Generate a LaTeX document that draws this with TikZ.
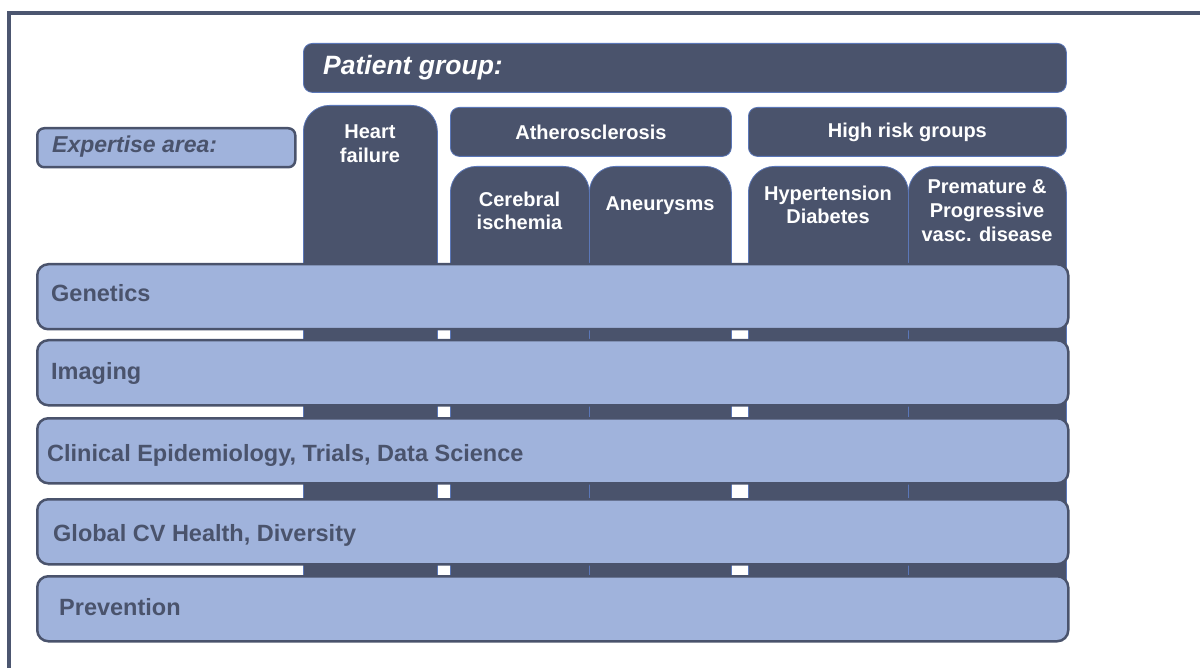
\documentclass[tikz,border=0pt]{standalone}
\usepackage{fontspec}
\setmainfont{Liberation Sans}
\definecolor{cvDark}{HTML}{4A536C}
\definecolor{cvLight}{HTML}{A0B3DC}
\definecolor{cvEdge}{HTML}{5B77B8}
\definecolor{cvFrame}{HTML}{4C5670}
\tikzset{
  cv frame/.style={draw=cvFrame, line width=4pt},
  cv column/.style={draw=cvEdge, fill=cvDark, line width=0.8pt, rounded corners=26pt, inner sep=0pt, anchor=north west},
  cv head/.style={draw=cvEdge, fill=cvDark, line width=0.8pt, rounded corners=9pt, inner sep=0pt, anchor=north west},
  cv band/.style={draw=cvDark, fill=cvLight, line width=2.5pt, rounded corners=11pt, inner sep=0pt, anchor=north west},
  cv col label/.style={font=\fontsize{20}{23.5}\selectfont\bfseries, text=white, align=center, inner sep=0pt},
  cv band label/.style={font=\fontsize{23.5}{27}\selectfont\bfseries, text=cvDark, inner sep=0pt, anchor=base west},
  cv title/.style={font=\fontsize{26.5}{30}\selectfont\bfseries\itshape, inner sep=0pt, anchor=base west},
}
\begin{document}
\begin{tikzpicture}[x=1pt,y=-1pt]
\useasboundingbox(0,0)rectangle(1200,668);
\draw[cv frame](9,13)rectangle(1215,690);
% patient groups
\node[cv head,minimum width=763pt,minimum height=49pt](pg)at(303,43){};
\node[cv head,minimum width=281pt,minimum height=49pt](ath)at(450,107){};
\node[cv head,minimum width=318pt,minimum height=49pt](hr)at(748,107){};
\node[cv column,minimum width=134pt,minimum height=515pt](hf)at(303,105){};
\node[cv column,minimum width=139pt,minimum height=454pt](ci)at(450,166){};
\node[cv column,minimum width=142pt,minimum height=454pt](an)at(589,166){};
\node[cv column,minimum width=160pt,minimum height=454pt](ht)at(748,166){};
\node[cv column,minimum width=158pt,minimum height=454pt](pp)at(908,166){};
% expertise areas
\node[cv band,rounded corners=7pt,minimum width=258pt,minimum height=39pt](ea)at(36,127){};
\foreach \y/\n/\t/\x/\b in {263/gen/Genetics/51/302,339/img/Imaging/51/380,417/cli/{Clinical Epidemiology, Trials, Data Science}/47/461,498/glo/{Global CV Health, Diversity}/53/541,575/pre/Prevention/59/615}{
  \node[cv band,minimum width=1031pt,minimum height=65pt](\n)at(36,\y){};
  \node[cv band label](\n-t)at(\x,\b){\t};}
% labels
\node[cv title,text=white](pg-t)at(323,75){Patient group:};
\node[cv title,font=\fontsize{23}{27}\selectfont\bfseries\itshape,text=cvDark](ea-t)at(52,153){Expertise area:};
\node[cv col label](hf-t)at(370,143.5){Heart\\failure};
\node[cv col label](ath-t)at(ath){Atherosclerosis};
\node[cv col label](hr-t)at(hr){High risk groups};
\node[cv col label](ci-t)at(519.5,211){Cerebral\\ischemia};
\node[cv col label](an-t)at(660,206){Aneurysms};
\node[cv col label](ht-t)at(828,205){Hypertension\\Diabetes};
\node[cv col label,font=\fontsize{20}{24}\selectfont\bfseries](pp-t)at(987,211){Premature \&\\Progressive\\vasc. disease};
\end{tikzpicture}
\end{document}
